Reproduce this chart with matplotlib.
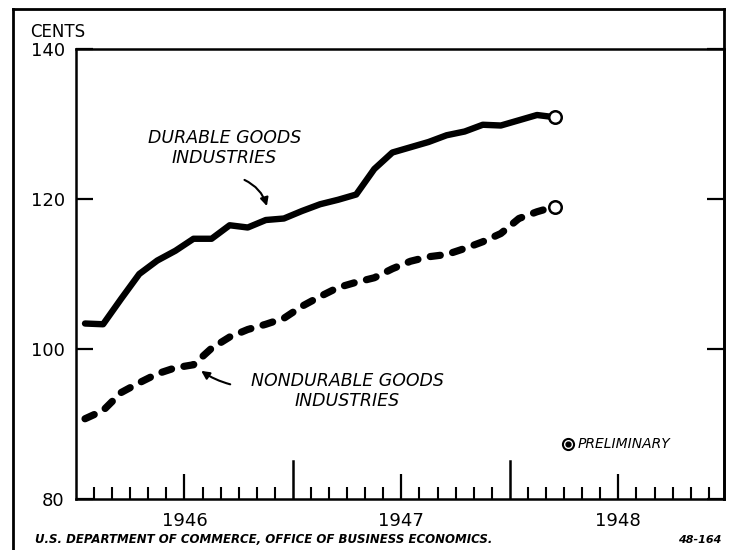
import matplotlib as mpl
import matplotlib.pyplot as plt
from matplotlib.lines import Line2D
import numpy as np

# Average hourly earnings, cents (monthly, Jan 1946 - Mar 1948, last point preliminary)
months = ["1946-01", "1946-02", "1946-03", "1946-04", "1946-05", "1946-06",
          "1946-07", "1946-08", "1946-09", "1946-10", "1946-11", "1946-12",
          "1947-01", "1947-02", "1947-03", "1947-04", "1947-05", "1947-06",
          "1947-07", "1947-08", "1947-09", "1947-10", "1947-11", "1947-12",
          "1948-01", "1948-02", "1948-03"]
durable = [103.4, 103.3, 106.7, 110.0, 111.8, 113.1, 114.7, 114.7, 116.5,
           116.2, 117.2, 117.4, 118.4, 119.3, 119.9, 120.6, 124.0, 126.2,
           126.9, 127.6, 128.5, 129.0, 129.9, 129.8, 130.5, 131.2, 130.9]
nondurable = [90.7, 91.8, 94.2, 95.5, 96.7, 97.5, 97.9, 100.1, 101.6,
              102.6, 103.3, 104.1, 105.7, 107.0, 108.2, 108.9, 109.5, 110.7,
              111.7, 112.3, 112.6, 113.4, 114.3, 115.4, 117.4, 118.3, 119.0]
years = ["1946", "1947", "1948"]
y_ticks = [80, 100, 120, 140]

mpl.rcParams.update({
    "font.family": "DejaVu Sans",
    "text.color": "black",
})

fig = plt.figure(figsize=(7.32, 5.5), dpi=100)
ax = fig.add_axes([0.1038, 0.0927, 0.8852, 0.8182])

# months placed at the middle of each month slot
x = np.arange(len(months)) + 0.5

ax.plot(x, durable, color="black", linewidth=4.6, solid_capstyle="round",
        solid_joinstyle="round")
ax.plot(x, nondurable, color="black", linewidth=5.2, dash_capstyle="round",
        linestyle=(0, (1.4, 1.75)))

# preliminary markers
for series in (durable, nondurable):
    ax.plot(x[-1], series[-1], marker="o", ms=9, mfc="white", mec="black",
            mew=1.8, zorder=5)

ax.set_xlim(0, 35.84)
ax.set_ylim(80, 140)

for s in ax.spines.values():
    s.set_linewidth(1.8)

# y axis
ax.set_yticks(y_ticks)
ax.set_yticklabels([str(v) for v in y_ticks], fontsize=13)
ax.tick_params(axis="y", direction="in", length=12, width=1.6, pad=8,
               right=True, left=True)

# x axis: month ticks, mid-year ticks carry the year labels
ax.set_xticks([6, 18, 30])
ax.set_xticklabels(years, fontsize=13)
ax.set_xticks([m for m in range(1, 36) if m % 6 != 0], minor=True)
ax.tick_params(axis="x", which="major", direction="in", length=18, width=1.6, pad=9)
ax.tick_params(axis="x", which="minor", direction="in", length=8.5, width=1.5)
for yb in (12, 24):
    ax.axvline(yb, ymin=0, ymax=0.084, color="black", linewidth=1.8)

# labels and arrows
ax.text(8.2, 126.8, "DURABLE GOODS\nINDUSTRIES", ha="center", va="center",
        fontsize=12.5, style="italic", linespacing=1.15)
ax.annotate("", xy=(10.6, 118.7), xytext=(9.18, 122.7),
            arrowprops=dict(arrowstyle="-|>", color="black", lw=1.5,
                            connectionstyle="arc3,rad=-0.25", mutation_scale=12))

ax.text(15.0, 94.4, "NONDURABLE GOODS\nINDUSTRIES", ha="center", va="center",
        fontsize=12.5, style="italic", linespacing=1.15)
ax.annotate("", xy=(6.8, 97.3), xytext=(8.68, 95.2),
            arrowprops=dict(arrowstyle="-|>", color="black", lw=1.5,
                            connectionstyle="arc3,rad=-0.1", mutation_scale=12))

# preliminary key
ax.plot(27.2, 87.3, marker="o", ms=8, mfc="white", mec="black", mew=1.5)
ax.plot(27.2, 87.3, marker="o", ms=3.5, color="black")
ax.text(27.75, 87.3, "PRELIMINARY", ha="left", va="center", fontsize=10,
        style="italic")

# texts outside the axes
fig.text(0.041, 0.942, "CENTS", fontsize=12, ha="left", va="center")
fig.text(0.048, 0.019, "U.S. DEPARTMENT OF COMMERCE, OFFICE OF BUSINESS ECONOMICS.",
         fontsize=8.5, style="italic", fontweight="bold", ha="left", va="center")
fig.text(0.985, 0.019, "48-164", fontsize=8, style="italic", fontweight="bold",
         ha="right", va="center")

# outer frame
fy = 1 - 9 / 550
fig.add_artist(Line2D([0.0178, 0.0178], [0, fy], color="black", lw=2))
fig.add_artist(Line2D([0.0178, 0.989], [fy, fy], color="black", lw=2))
fig.add_artist(Line2D([0.989, 0.989], [fy, 0.0927], color="black", lw=2))

fig.savefig("out.png", dpi=100)
